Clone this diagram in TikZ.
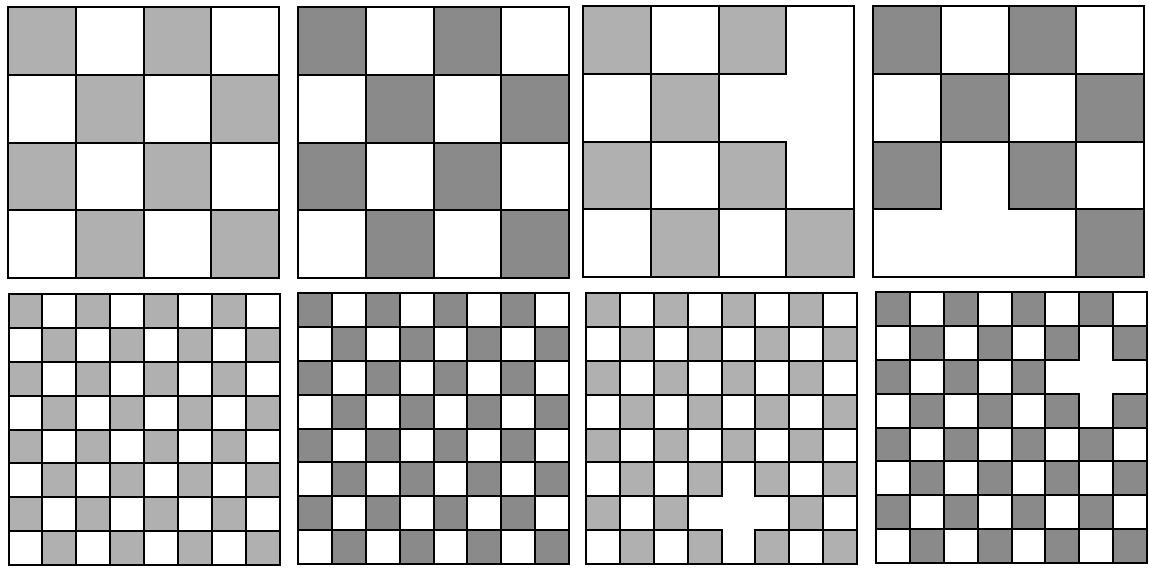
\documentclass[tikz,border=0pt]{standalone}
\usepackage{tikz}
\usetikzlibrary{calc}

\definecolor{lightcell}{RGB}{176,176,176}
\definecolor{darkcell}{RGB}{138,138,138}

\tikzset{
  cell/.style={draw=black, line width=2pt},
  rim/.style={draw=black, line width=1.8pt}
}

% 棋盘：#1,#2 左上角；#3 格数；#4 颜色；#5,#6 十字中心（行，列）
\newcommand{\drawboard}[6]{%
  \pgfmathsetmacro\cellsz{271/#3}
  \pgfmathtruncatemacro\nmax{#3-1}
  \foreach \r in {0,...,\nmax}{
    \foreach \c in {0,...,\nmax}{
      \pgfmathtruncatemacro\incross{(abs(\r-#5)+abs(\c-#6))<=1}
      \pgfmathtruncatemacro\isgray{mod(\r+\c,2)==0}
      \ifnum\incross=0
        \ifnum\isgray=1
          \path[cell, fill=#4] (#1+\c*\cellsz, #2+\r*\cellsz) rectangle ++(\cellsz,\cellsz);
        \else
          \path[cell, fill=white] (#1+\c*\cellsz, #2+\r*\cellsz) rectangle ++(\cellsz,\cellsz);
        \fi
      \fi
    }
  }
  \draw[rim] (#1,#2) rectangle ++(271,271);
}

\begin{document}
\begin{tikzpicture}[x=1pt, y=-1pt, line join=miter]
  \useasboundingbox (0,0) rectangle (1149,568);
  % 上排：4×4
  \drawboard{8}{7}{4}{lightcell}{-9}{-9}
  \drawboard{298}{7}{4}{darkcell}{-9}{-9}
  \drawboard{583}{6}{4}{lightcell}{1}{3}
  \drawboard{873}{6}{4}{darkcell}{3}{1}
  % 下排：8×8
  \drawboard{8.5}{294}{8}{lightcell}{-9}{-9}
  \drawboard{298}{293}{8}{darkcell}{-9}{-9}
  \drawboard{586}{293}{8}{lightcell}{6}{4}
  \drawboard{876}{292}{8}{darkcell}{2}{6}
\end{tikzpicture}
\end{document}
